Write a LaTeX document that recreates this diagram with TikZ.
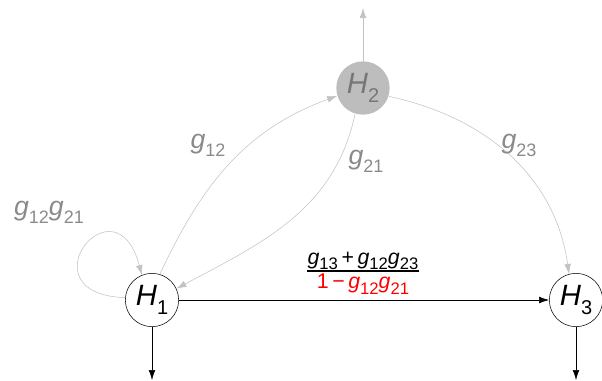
\documentclass[tikz,border=0pt]{standalone}
\usepackage{fontspec}
\setmainfont{Liberation Sans}
\usetikzlibrary{positioning,arrows.meta}
\definecolor{edgegray}{HTML}{C2C2C2}
\definecolor{labelgray}{HTML}{8A8A8A}
\definecolor{hubgray}{HTML}{BDBDBD}
\definecolor{hubtext}{HTML}{777777}
\newcommand{\lo}[1]{\raisebox{-.3em}{\fontsize{13.5}{13.5}\selectfont #1}}
\newcommand{\los}[1]{\raisebox{-.25em}{\fontsize{12.5}{12.5}\selectfont #1}}
\newcommand{\loh}[1]{\raisebox{-.3em}{\fontsize{15}{15}\selectfont #1}}
\newcommand{\hname}[1]{\textit{H}\loh{#1}}
\newcommand{\gs}[1]{\textit{g}\los{#1}}
\newcommand{\gl}[1]{\textit{g}\lo{#1}}

\begin{document}
\begin{tikzpicture}[x=0.75pt,y=-0.75pt,
          every node/.style={font=\fontsize{20}{22}\selectfont},
          hub/.style={circle,draw=black,fill=white,inner sep=0pt,minimum size=40pt,font=\fontsize{22}{24}\selectfont},
          ghost/.style={hub,draw=none,fill=hubgray,text=hubtext},
          flow/.style={draw=black,-{Latex[length=7.5pt,width=5pt]}},
          back/.style={draw=edgegray,-{Latex[length=7.5pt,width=5pt]}},
          gain/.style={text=labelgray},
          ratio/.style={font=\fontsize{16}{18}\selectfont,inner sep=0pt},
        ]
        \useasboundingbox (0,0) rectangle (602,380);
        \node[hub] (H1) at (152,300) {\hname{1}};
        \node[ghost] (H2) at (363,88) {\hname{2}};
        \node[hub] (H3) at (576,300) {\hname{3}};
        \coordinate (up2) at (363,8);
        \coordinate (out1) at (152,380);
        \coordinate (out3) at (576,380);
        % gray paths through H2
        \draw[back] (H2) -- (up2);
        \draw[back] (H1.73) to[out=65,in=200] (H2.197);
        \draw[back] (H2.253) to[out=258,in=28] (H1.25);
        \draw[back] (H2.342) to[out=-12,in=98] (H3.105);
        \draw[back] (H1.175) to[out=178,in=105,distance=78] (H1.112);
        \node[gain] (l12) at (208,145) {\gl{12}};
        \node[gain] (l21) at (366,161) {\gl{21}};
        \node[gain] (l23) at (519,145) {\gl{23}};
        \node[gain] (l1221) at (49,212) {\gl{12}\gl{21}};
        % reduced path
        \draw[flow] (H1) -- (H3);
        \draw[flow] (H1) -- (out1);
        \draw[flow] (H3) -- (out3);
        \node[ratio,anchor=south] (num) at (363,270) {\gs{13}\,+\,\gs{12}\gs{23}};
        \node[ratio,anchor=north,text=red] (den) at (363,274) {1\,−\,\gs{12}\gs{21}};
        \draw[line width=1.3pt] ([yshift=-1pt]num.south west) -- ([yshift=-1pt]num.south east);
      \end{tikzpicture}
\end{document}
